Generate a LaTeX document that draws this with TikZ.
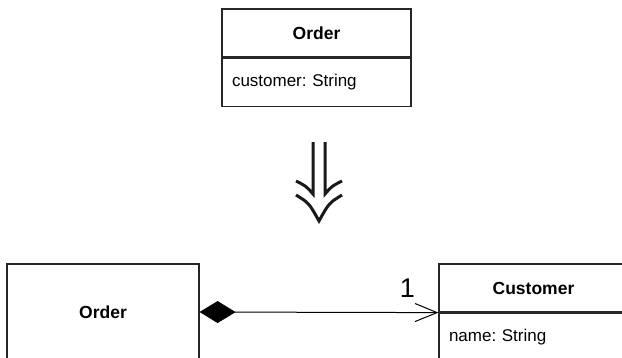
\documentclass[tikz,border=0pt]{standalone}
\usepackage{fontspec}
\setmainfont{Liberation Sans}
\usetikzlibrary{arrows.meta,positioning}
\frenchspacing

\begin{document}
\begin{tikzpicture}[x=1pt, y=-1pt,
  head/.style={draw=black!85, line width=1.2pt, minimum width=189pt, minimum height=48pt, inner sep=0pt, font=\fontsize{17.5}{20}\selectfont\bfseries},
  attr/.style={draw=black!85, line width=1.2pt, minimum width=189pt, minimum height=48pt, text width=169pt, inner sep=10pt, align=left, font=\fontsize{17}{20}\selectfont},
  whole/.style={draw=black!85, line width=1.2pt, minimum width=192pt, minimum height=96pt, inner sep=0pt, font=\fontsize{17.5}{20}\selectfont\bfseries},
  assoc/.style={line width=1pt, {Diamond[length=36pt, width=22pt]}-{Straight Barb[length=22pt, width=18pt]}},
  chev/.style={line width=3pt, black!90, line join=miter}
]
\path[use as bounding box] (0,0) rectangle (622,357);
\clip (0,0) rectangle (622,357);

% before
\node[head] (ordhead) at (316.5,33) {Order};
\node[attr, below=0pt of ordhead] (ordattr) {customer: String};

% refinement arrow
\draw[chev] (313,142) -- (313,194) .. controls (306,186) .. (296,181);
\draw[chev] (325,142) -- (325,194) .. controls (332,186) .. (342,181);
\draw[chev] (296,195) .. controls (309,203) .. (319,221) .. controls (329,203) .. (342,195);

% after
\node[whole] (order) at (103,312) {Order};
\node[head] (custhead) at (533.5,288) {Customer};
\node[attr, below=0pt of custhead] (custattr) {name: String};

\draw[assoc] (order.east) -- node[pos=0.87, above=15pt, font=\fontsize{27}{30}\selectfont, inner sep=0pt] {1} (custhead.south west);
\end{tikzpicture}
\end{document}
